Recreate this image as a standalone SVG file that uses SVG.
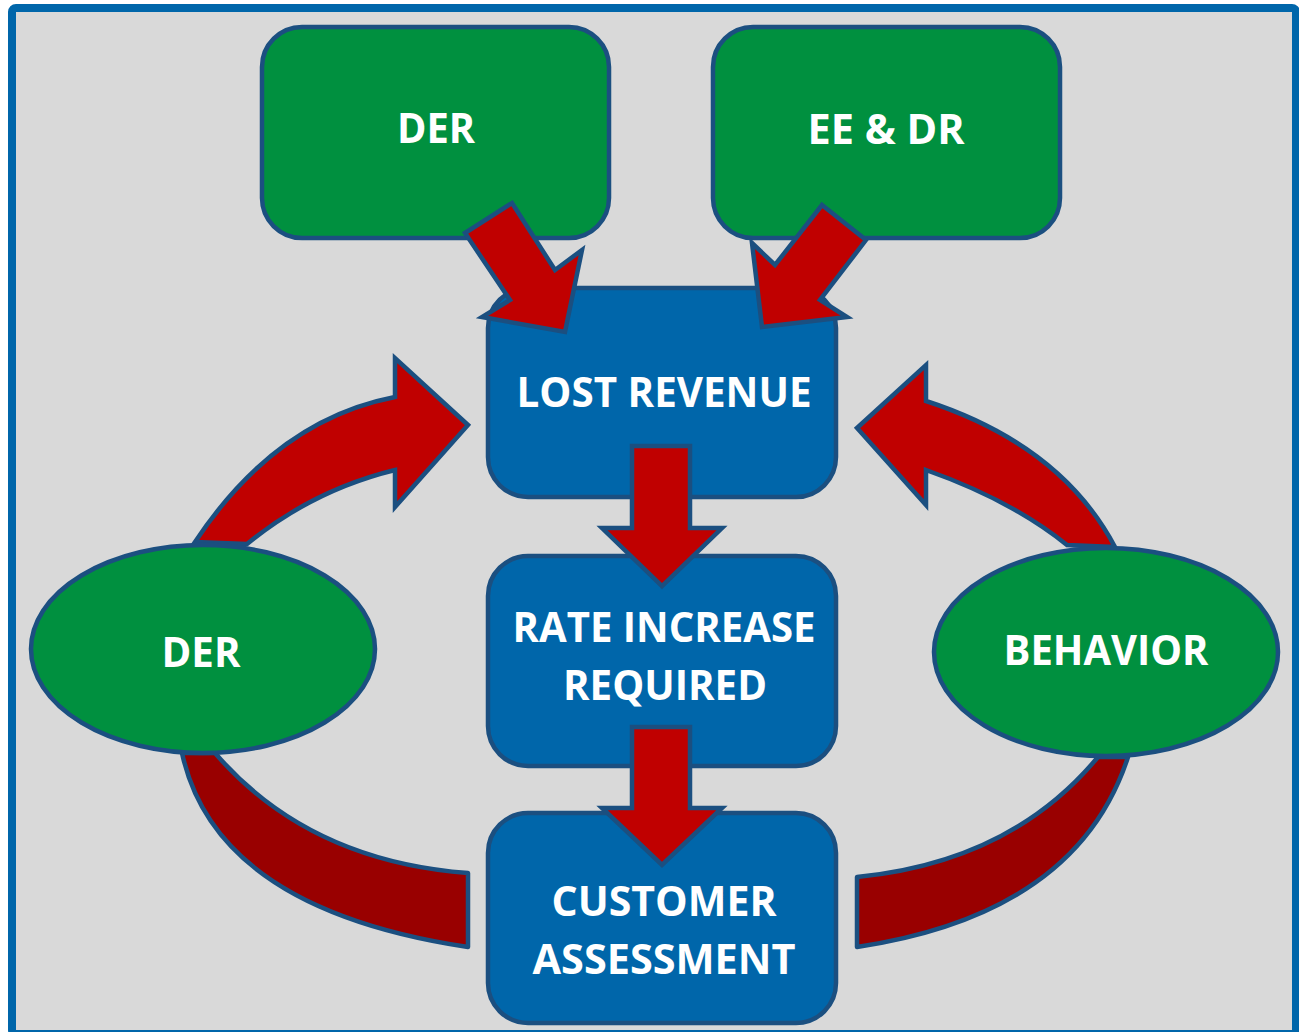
<svg xmlns="http://www.w3.org/2000/svg" width="1299" height="1032" viewBox="0 0 1299 1032">
<style>
.frame{fill:#D9D9D9;stroke:#0066AA;stroke-width:8}
.gbox{fill:#00903F;stroke:#1B4F80;stroke-width:4.5}
.bbox{fill:#0066AA;stroke:#1B4F80;stroke-width:4.5}
.red{fill:#C00000;stroke:#1B4F80;stroke-width:4.5;stroke-linejoin:miter}
.dred{fill:#990000;stroke:#1B4F80;stroke-width:4.5;stroke-linejoin:round}
.t{fill:#FFFFFF;font-family:"Open Sans","Liberation Sans",sans-serif;font-weight:700;font-size:41px;text-anchor:middle}
</style>
<rect class="frame" x="12" y="8" width="1284" height="1026" rx="4"/>
<g id="connectors">
  <path class="red" d="M195,542 Q276,420 395,397 L395,358 L468,425 L395,507 L395,470 Q313,490 247,544 Z"/>
  <path class="red" d="M1115,547 Q1061,445 926,401 L926,365 L857,428 L926,505 L926,470 Q1011,500 1067,545 Z"/>
  <path class="dred" d="M182,753 Q216,909 468,947 L468,873 Q308,861 215,753 Z"/>
  <path class="dred" d="M1128,757 Q1077,914 857,947 L857,877 Q1011,862 1098,757 Z"/>
</g>
<g id="node-der-top">
  <rect class="gbox" x="262" y="27" width="347" height="211" rx="40"/>
  <text class="t" x="436" y="143" textLength="78" lengthAdjust="spacingAndGlyphs">DER</text>
</g>
<g id="node-ee-dr">
  <rect class="gbox" x="713" y="27" width="347" height="211" rx="40"/>
  <text class="t" x="886" y="144" textLength="157" lengthAdjust="spacingAndGlyphs">EE &amp; DR</text>
</g>
<g id="node-lost-revenue">
  <rect class="bbox" x="488" y="288" width="348" height="209" rx="40"/>
  <text class="t" x="664" y="407" textLength="295" lengthAdjust="spacingAndGlyphs">LOST REVENUE</text>
</g>
<g id="node-rate-increase">
  <rect class="bbox" x="488" y="556" width="348" height="210" rx="40"/>
  <text class="t" x="664" y="642" textLength="303" lengthAdjust="spacingAndGlyphs">RATE INCREASE</text>
  <text class="t" x="665" y="700" textLength="204" lengthAdjust="spacingAndGlyphs">REQUIRED</text>
</g>
<g id="node-customer-assessment">
  <rect class="bbox" x="488" y="813" width="348" height="210" rx="40"/>
  <text class="t" x="664" y="916" textLength="225" lengthAdjust="spacingAndGlyphs">CUSTOMER</text>
  <text class="t" x="664" y="974" textLength="263" lengthAdjust="spacingAndGlyphs">ASSESSMENT</text>
</g>
<g id="node-der-left">
  <ellipse class="gbox" cx="203" cy="649" rx="172" ry="104"/>
  <text class="t" x="201" y="667" textLength="79" lengthAdjust="spacingAndGlyphs">DER</text>
</g>
<g id="node-behavior">
  <ellipse class="gbox" cx="1106" cy="652" rx="172" ry="104"/>
  <text class="t" x="1106" y="665" textLength="205" lengthAdjust="spacingAndGlyphs">BEHAVIOR</text>
</g>
<g id="connectors-straight">
  <path class="red" d="M512,203 L555,270 L582,250 L565,332 L482,317 L510,300 L465,233 Z"/>
  <path class="red" d="M822,205 L866,240 L820,300 L847,317 L762,327 L752,243 L775,265 Z"/>
  <path class="red" d="M632,446 L690,446 L690,528 L722,528 L662,586 L602,528 L632,528 Z"/>
  <path class="red" d="M632,727 L690,727 L690,808 L722,808 L662,865 L602,808 L632,808 Z"/>
</g>
</svg>
